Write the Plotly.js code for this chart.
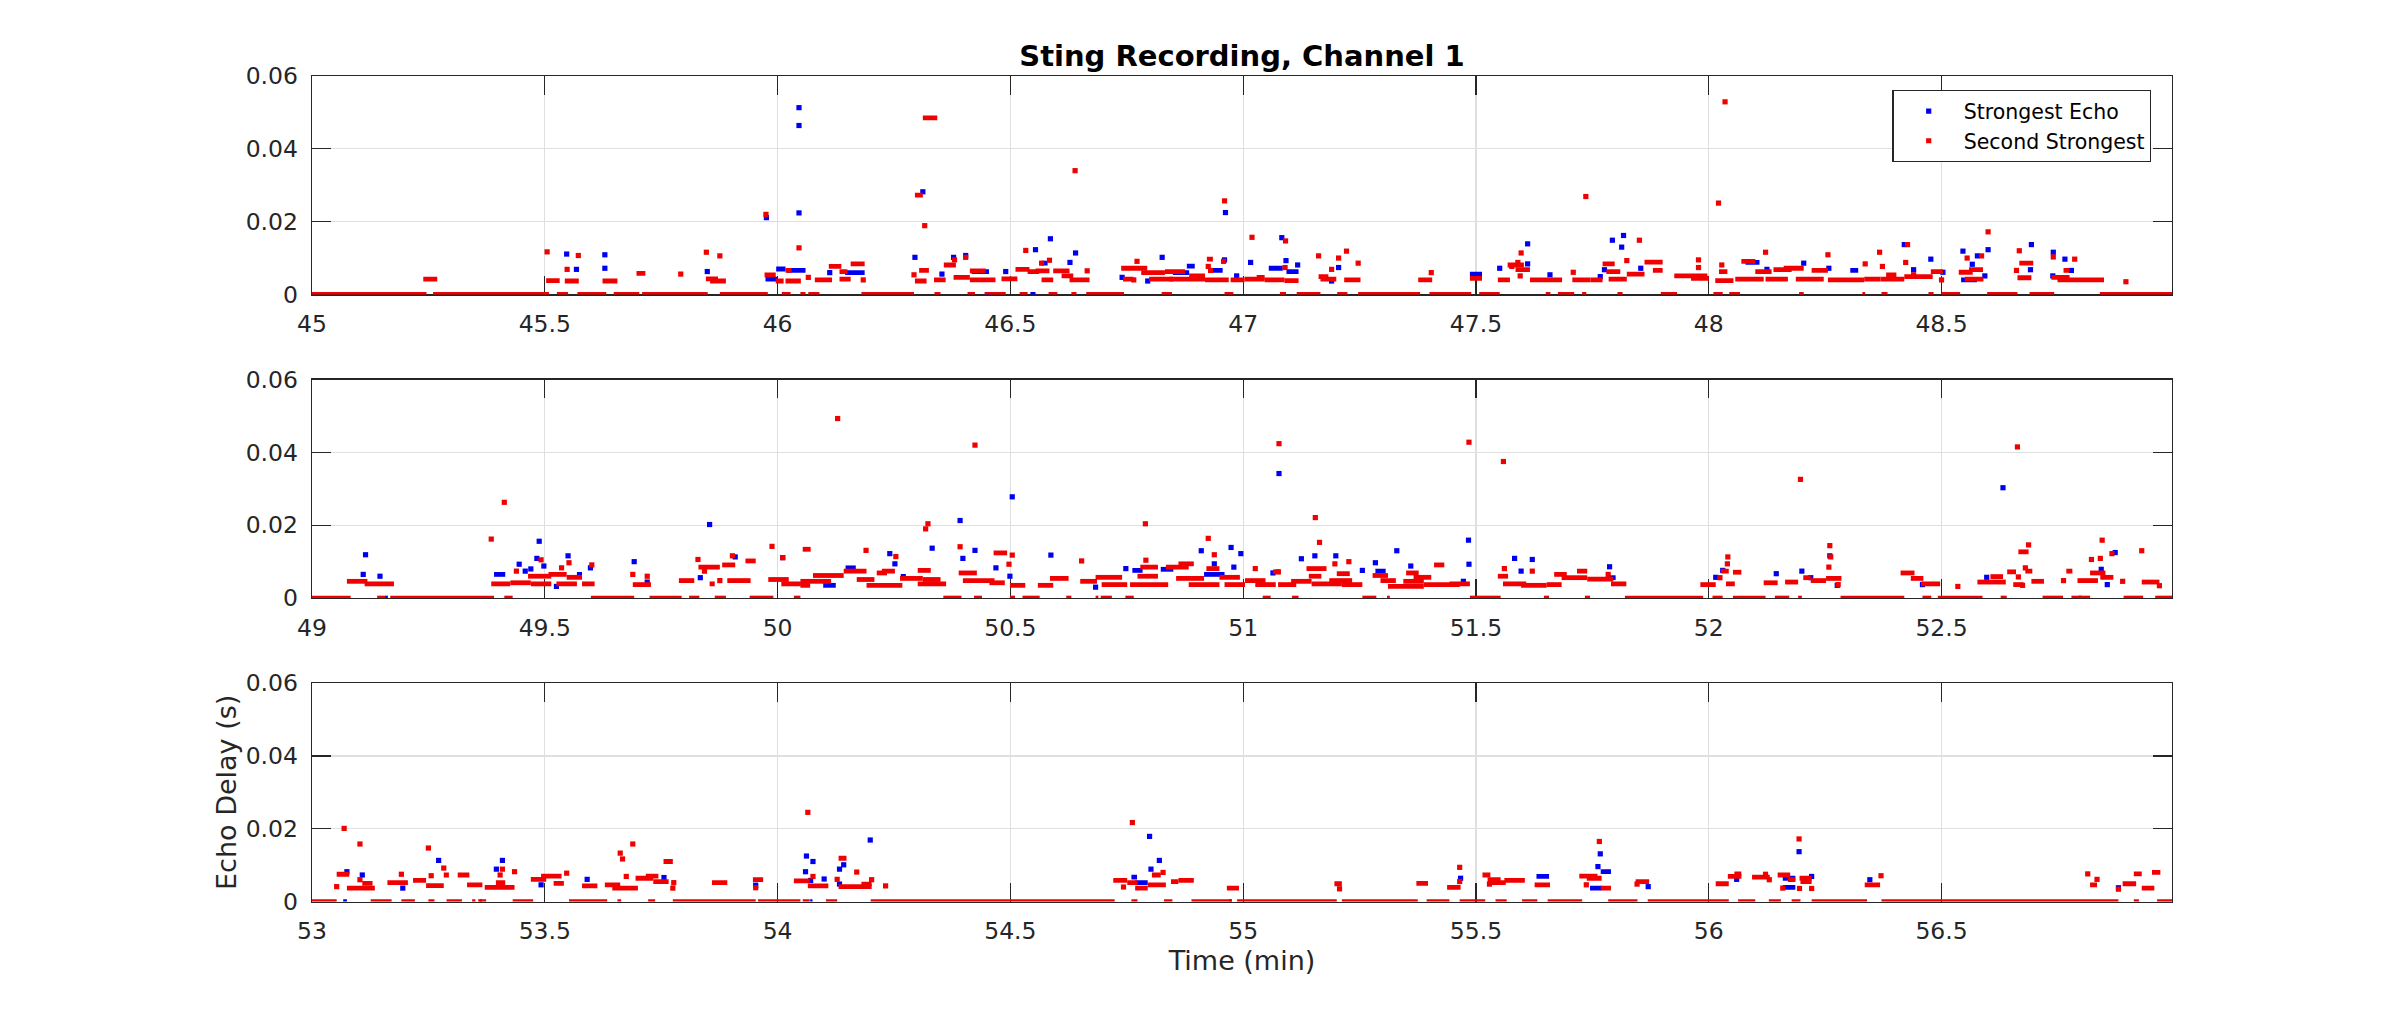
<!DOCTYPE html>
<html>
<head>
<meta charset="utf-8">
<script src="https://cdn.plot.ly/plotly-3.0.1.min.js"></script>
<style>html,body{margin:0;padding:0;background:#fff;}#chart{width:2400px;height:1013px;}</style>
</head>
<body>
<div id="chart"></div>
<script>
// ---------------- DATA ----------------
const panelStarts = [45, 49, 53];
const yTickVals = [0, 0.02, 0.04, 0.06];
const seriesNames = ['Strongest Echo', 'Second Strongest'];

// Panel 1 (45-49 min)
// runs of zero delay [start, end]
const zero1 = [[45.0,45.246],[45.26,45.509],[45.526,45.55],[45.57,45.632],[45.648,45.703],[45.709,45.85],[45.876,45.979],[46.009,46.028],[46.049,46.06],[46.066,46.09],[46.18,46.293],[46.337,46.35],[46.408,46.424],[46.445,46.49],[46.52,46.537],[46.582,46.601],[46.631,46.642],[46.663,46.744],[46.825,46.847],[46.96,46.979],[47.079,47.092],[47.115,47.166],[47.202,47.224],[47.247,47.38],[47.4,47.49],[47.507,47.551],[47.65,47.66],[47.676,47.711],[47.728,47.737],[47.804,47.815],[47.897,47.932],[48.01,48.03],[48.044,48.067],[48.194,48.204],[48.33,48.336],[48.371,48.384],[48.472,48.483],[48.5,48.54],[48.598,48.663],[48.689,48.742],[48.84,49.0]];
const blueZero1 = [[46.445,46.46],[46.543,46.554],[48.02,48.026]];
// runs of constant delay [start, end, delay]
const redDash1 = [[45.239,45.269,0.0042],[45.503,45.532,0.0038],[45.543,45.573,0.0037],[45.624,45.656,0.0037],[45.697,45.716,0.0058],[45.846,45.872,0.0043],[45.855,45.889,0.0037],[45.972,45.996,0.0054],[45.996,46.013,0.0037],[46.017,46.05,0.0037],[46.017,46.03,0.0066],[46.08,46.117,0.004],[46.11,46.137,0.0077],[46.133,46.15,0.0063],[46.133,46.157,0.0042],[46.157,46.187,0.0084],[46.304,46.325,0.0066],[46.295,46.32,0.0037],[46.295,46.312,0.0273],[46.312,46.343,0.0485],[46.336,46.361,0.004],[46.357,46.383,0.0081],[46.378,46.413,0.0047],[46.413,46.447,0.0065],[46.413,46.468,0.004],[46.481,46.515,0.0043],[46.511,46.541,0.0069],[46.537,46.562,0.0063],[46.554,46.584,0.0065],[46.567,46.592,0.004],[46.592,46.627,0.0065],[46.61,46.635,0.0051],[46.627,46.67,0.004],[46.738,46.794,0.0072],[46.742,46.764,0.0042],[46.781,46.832,0.006],[46.798,46.849,0.0042],[46.832,46.875,0.0063],[46.841,46.918,0.0042],[46.884,46.918,0.0051],[46.922,46.935,0.0097],[46.918,46.969,0.004],[46.973,47.003,0.004],[47.003,47.046,0.0042],[47.029,47.046,0.0047],[47.046,47.089,0.004],[47.089,47.119,0.0038],[47.162,47.183,0.0049],[47.166,47.2,0.0042],[47.217,47.252,0.004],[47.376,47.406,0.004],[47.487,47.513,0.0044],[47.547,47.573,0.004],[47.568,47.603,0.0081],[47.585,47.616,0.0068],[47.616,47.685,0.004],[47.707,47.746,0.004],[47.746,47.772,0.004],[47.772,47.798,0.0084],[47.78,47.81,0.0063],[47.785,47.824,0.0042],[47.824,47.862,0.0056],[47.862,47.901,0.0089],[47.88,47.901,0.0066],[47.926,47.997,0.0051],[47.962,48.0,0.0044],[48.022,48.04,0.0063],[48.014,48.053,0.0038],[48.07,48.1,0.0091],[48.1,48.135,0.0063],[48.057,48.118,0.0042],[48.139,48.178,0.0068],[48.122,48.17,0.0042],[48.161,48.204,0.0072],[48.187,48.247,0.0042],[48.221,48.256,0.0066],[48.256,48.334,0.004],[48.334,48.369,0.0042],[48.381,48.403,0.0054],[48.369,48.42,0.0042],[48.42,48.481,0.0049],[48.477,48.503,0.0063],[48.537,48.567,0.0061],[48.559,48.589,0.0068],[48.55,48.59,0.0042],[48.667,48.697,0.0086],[48.663,48.693,0.0046],[48.762,48.775,0.0066],[48.736,48.775,0.0047],[48.749,48.849,0.004]];
const blueDash1 = [[45.974,46.0,0.0042],[45.997,46.017,0.007],[46.02,46.06,0.0066],[46.145,46.187,0.006],[46.417,46.454,0.0063],[46.567,46.58,0.0086],[46.849,46.884,0.006],[46.879,46.896,0.0078],[46.935,46.956,0.0066],[47.055,47.085,0.0072],[47.093,47.119,0.0063],[47.487,47.513,0.0056],[48.079,48.109,0.0088],[48.304,48.321,0.0066],[48.542,48.576,0.004]];
// single points [time, delay]
const redPts1 = [[45.505,0.0117],[45.572,0.0107],[45.548,0.0069],[45.792,0.0056],[45.847,0.0116],[45.876,0.0106],[45.975,0.022],[46.046,0.0128],[46.066,0.0047],[46.184,0.004],[46.316,0.0189],[46.293,0.0054],[46.38,0.0095],[46.404,0.0102],[46.533,0.0121],[46.567,0.0086],[46.584,0.0094],[46.665,0.0065],[46.639,0.034],[46.772,0.0091],[46.765,0.004],[46.925,0.0077],[46.93,0.0066],[46.96,0.0257],[46.958,0.0091],[47.019,0.0157],[47.091,0.0147],[47.09,0.0074],[47.162,0.0106],[47.19,0.0069],[47.205,0.01],[47.222,0.0119],[47.247,0.0086],[47.404,0.006],[47.577,0.0077],[47.597,0.0114],[47.59,0.0088],[47.595,0.0051],[47.709,0.0061],[47.736,0.0269],[47.851,0.0149],[47.824,0.0093],[47.978,0.0095],[47.978,0.0074],[48.021,0.0251],[48.035,0.0529],[48.028,0.0081],[48.122,0.0116],[48.256,0.0109],[48.336,0.0084],[48.367,0.0116],[48.373,0.0077],[48.427,0.0137],[48.423,0.0088],[48.44,0.0054],[48.5,0.004],[48.555,0.01],[48.586,0.0106],[48.6,0.0172],[48.667,0.012],[48.661,0.0066],[48.74,0.0103],[48.786,0.0097],[48.896,0.0035]];
const bluePts1 = [[45.547,0.0111],[45.568,0.0069],[45.629,0.0109],[45.629,0.0072],[45.849,0.0063],[45.976,0.0211],[46.046,0.0513],[46.046,0.0464],[46.046,0.0224],[46.295,0.0102],[46.312,0.0282],[46.353,0.0056],[46.378,0.0102],[46.404,0.0107],[46.49,0.0063],[46.554,0.0123],[46.586,0.0153],[46.64,0.0114],[46.628,0.0088],[46.74,0.0047],[46.795,0.0037],[46.826,0.0102],[46.96,0.0095],[46.962,0.0225],[46.986,0.0051],[47.016,0.0088],[47.083,0.0156],[47.092,0.0093],[47.117,0.0081],[47.19,0.0037],[47.205,0.0074],[47.551,0.0072],[47.611,0.0139],[47.611,0.0084],[47.659,0.0054],[47.767,0.0049],[47.776,0.0068],[47.793,0.0149],[47.817,0.0162],[47.813,0.013],[47.854,0.0072],[48.125,0.0069],[48.204,0.0086],[48.258,0.0072],[48.42,0.0137],[48.44,0.0068],[48.477,0.0097],[48.503,0.0061],[48.546,0.0119],[48.566,0.0083],[48.577,0.0106],[48.6,0.0123],[48.593,0.0051],[48.693,0.0137],[48.691,0.0068],[48.74,0.0116],[48.765,0.0097],[48.779,0.0066],[48.739,0.0051],[46.112,0.006]];

// Panel 2 (49-53 min)
const zero2 = [[49.0,49.083],[49.14,49.157],[49.168,49.391],[49.413,49.431],[49.599,49.692],[49.725,49.794],[49.81,49.832],[49.865,49.889],[49.94,49.991],[50.035,50.049],[50.356,50.395],[50.422,50.439],[50.499,50.51],[50.526,50.563],[50.62,50.631],[50.683,50.689],[50.694,50.718],[50.747,50.765],[51.042,51.059],[51.105,51.119],[51.256,51.286],[51.309,51.315],[51.487,51.553],[51.646,51.657],[51.734,51.745],[51.82,51.988],[52.008,52.03],[52.052,52.122],[52.142,52.173],[52.192,52.2],[52.283,52.42],[52.459,52.478],[52.492,52.588],[52.627,52.64],[52.717,52.761],[52.779,52.819],[52.891,52.933],[52.959,53.0]];
const blueZero2 = [[49.157,49.163],[52.795,52.8]];
const redDash2 = [[49.075,49.119,0.0046],[49.113,49.176,0.0039],[49.385,49.426,0.0039],[49.426,49.47,0.0042],[49.464,49.514,0.006],[49.47,49.514,0.0039],[49.508,49.547,0.0065],[49.525,49.569,0.0039],[49.547,49.58,0.0057],[49.58,49.607,0.0039],[49.689,49.728,0.0037],[49.788,49.821,0.0048],[49.83,49.876,0.0085],[49.854,49.865,0.0039],[49.881,49.909,0.0091],[49.892,49.942,0.0048],[49.931,49.953,0.0102],[49.98,50.024,0.0051],[50.008,50.05,0.0039],[50.054,50.071,0.0134],[50.076,50.142,0.0062],[50.049,50.115,0.0046],[50.049,50.07,0.0035],[50.142,50.191,0.0074],[50.17,50.208,0.0051],[50.191,50.268,0.0035],[50.213,50.235,0.0069],[50.224,50.252,0.0074],[50.263,50.312,0.0054],[50.301,50.329,0.0076],[50.301,50.362,0.0039],[50.312,50.35,0.0051],[50.389,50.428,0.0069],[50.398,50.466,0.0048],[50.455,50.488,0.0042],[50.464,50.493,0.0124],[50.499,50.532,0.0035],[50.559,50.592,0.0035],[50.585,50.625,0.0054],[50.65,50.686,0.0046],[50.683,50.74,0.0057],[50.696,50.751,0.0037],[50.779,50.817,0.0085],[50.773,50.817,0.006],[50.757,50.839,0.0037],[50.834,50.883,0.0085],[50.861,50.894,0.0094],[50.856,50.916,0.0054],[50.883,50.949,0.0037],[50.921,50.949,0.0081],[50.949,50.993,0.0057],[50.96,51.004,0.0037],[51.004,51.048,0.0048],[51.026,51.07,0.0037],[51.064,51.081,0.0072],[51.075,51.114,0.0037],[51.103,51.147,0.0046],[51.136,51.179,0.0081],[51.141,51.168,0.006],[51.147,51.212,0.0039],[51.185,51.234,0.0048],[51.201,51.229,0.0067],[51.212,51.256,0.0037],[51.278,51.311,0.0062],[51.295,51.328,0.0048],[51.311,51.388,0.0032],[51.344,51.388,0.0046],[51.35,51.377,0.0069],[51.366,51.404,0.0057],[51.41,51.432,0.0091],[51.388,51.465,0.0037],[51.443,51.487,0.0039],[51.547,51.569,0.006],[51.558,51.608,0.0039],[51.597,51.652,0.0035],[51.668,51.695,0.0065],[51.652,51.684,0.0037],[51.684,51.739,0.0056],[51.717,51.739,0.0074],[51.739,51.795,0.0052],[51.79,51.823,0.0039],[51.982,52.015,0.0037],[52.026,52.043,0.0074],[52.052,52.07,0.0071],[52.037,52.056,0.0039],[52.118,52.148,0.0042],[52.164,52.192,0.0044],[52.203,52.219,0.0056],[52.219,52.252,0.0048],[52.252,52.285,0.0054],[52.412,52.442,0.0069],[52.434,52.461,0.0054],[52.456,52.497,0.0039],[52.577,52.638,0.0044],[52.605,52.632,0.0059],[52.641,52.66,0.0072],[52.654,52.676,0.0037],[52.665,52.687,0.0127],[52.68,52.695,0.0074],[52.693,52.72,0.0046],[52.768,52.781,0.0074],[52.792,52.836,0.0048],[52.819,52.852,0.0069],[52.841,52.869,0.0057],[52.93,52.968,0.0044]];
const blueDash2 = [[49.391,49.415,0.0065],[49.569,49.58,0.0065],[50.098,50.125,0.0035],[50.146,50.168,0.0083],[50.762,50.784,0.0076],[50.823,50.85,0.0079],[50.916,50.96,0.0065],[51.284,51.306,0.0074],[51.784,51.8,0.0056]];
const redPts2 = [[49.385,0.0162],[49.413,0.0263],[49.439,0.0074],[49.492,0.0105],[49.552,0.0097],[49.536,0.0083],[49.601,0.0091],[49.689,0.0065],[49.72,0.006],[49.829,0.0106],[49.843,0.0074],[49.903,0.0116],[49.876,0.0048],[49.988,0.0142],[50.011,0.0111],[50.129,0.0493],[50.424,0.042],[51.077,0.0424],[51.485,0.0428],[51.559,0.0375],[51.155,0.0221],[50.323,0.0204],[50.318,0.019],[50.79,0.0204],[50.925,0.0164],[51.164,0.0153],[50.19,0.0131],[50.254,0.0114],[50.392,0.0141],[50.504,0.0118],[50.653,0.0102],[50.497,0.0093],[51.197,0.0094],[51.227,0.01],[51.561,0.0081],[51.026,0.0081],[50.938,0.0119],[50.791,0.0104],[51.621,0.0074],[51.784,0.0065],[52.024,0.0056],[52.041,0.0113],[52.04,0.0094],[52.197,0.0326],[52.26,0.0144],[52.262,0.0113],[52.258,0.0085],[52.278,0.0037],[52.535,0.0032],[52.663,0.0415],[52.687,0.0146],[52.68,0.0083],[52.665,0.0058],[52.674,0.0035],[52.762,0.0048],[52.822,0.0106],[52.841,0.0109],[52.845,0.0159],[52.866,0.0122],[52.889,0.0046],[52.93,0.013],[52.968,0.0034],[51.075,0.0072]];
const bluePts2 = [[49.115,0.0119],[49.11,0.0065],[49.146,0.006],[49.445,0.0093],[49.47,0.008],[49.458,0.0074],[49.488,0.0156],[49.483,0.0109],[49.498,0.0088],[49.55,0.0116],[49.525,0.0032],[49.598,0.0083],[49.692,0.01],[49.72,0.0044],[49.854,0.0202],[49.834,0.0056],[49.909,0.0113],[50.011,0.0111],[50.504,0.0278],[51.077,0.0342],[50.392,0.0213],[51.484,0.0159],[50.974,0.0139],[50.995,0.0122],[50.91,0.013],[51.33,0.013],[50.241,0.0122],[50.332,0.0137],[50.424,0.0131],[50.587,0.0118],[50.398,0.0109],[50.469,0.0083],[51.125,0.0108],[51.154,0.0116],[51.199,0.0116],[51.284,0.0097],[51.256,0.0076],[51.583,0.0109],[51.621,0.0106],[51.485,0.0093],[50.938,0.0094],[50.252,0.0094],[50.499,0.006],[50.748,0.0081],[50.98,0.0085],[51.064,0.0069],[51.36,0.0088],[51.597,0.0074],[51.473,0.0046],[51.787,0.0086],[52.015,0.0057],[52.03,0.0076],[52.145,0.0067],[52.2,0.0074],[52.219,0.0056],[52.26,0.0116],[52.276,0.0035],[52.459,0.0037],[52.597,0.0057],[52.632,0.0303],[52.856,0.0037],[52.843,0.0079],[52.873,0.0125],[50.27,0.0059],[50.683,0.003]];

// Panel 3 (53-57 min)
const zero3 = [[53.0,53.053],[53.126,53.171],[53.192,53.221],[53.25,53.263],[53.289,53.322],[53.344,53.351],[53.357,53.374],[53.431,53.475],[53.552,53.634],[53.656,53.664],[53.722,53.737],[53.775,53.953],[53.958,54.049],[54.054,54.069],[54.104,54.128],[54.2,54.724],[54.76,54.773],[54.83,54.848],[54.889,54.976],[54.987,55.201],[55.212,55.375],[55.394,55.443],[55.465,55.52],[55.542,55.566],[55.599,55.632],[55.654,55.728],[55.784,55.847],[55.869,56.043],[56.063,56.1],[56.129,56.155],[56.178,56.197],[56.221,56.34],[56.371,56.88],[56.913,56.924],[56.963,57.0]];
const blueZero3 = [[53.067,53.075],[53.36,53.365],[54.07,54.075],[54.97,54.975]];
const redDash3 = [[53.053,53.08,0.0075],[53.075,53.135,0.0037],[53.108,53.13,0.005],[53.162,53.206,0.0052],[53.217,53.245,0.0058],[53.245,53.283,0.0044],[53.283,53.294,0.0073],[53.313,53.338,0.0073],[53.333,53.366,0.0046],[53.371,53.435,0.0039],[53.395,53.415,0.0052],[53.47,53.503,0.0061],[53.492,53.536,0.007],[53.519,53.541,0.005],[53.58,53.613,0.0043],[53.629,53.662,0.0046],[53.645,53.7,0.0037],[53.695,53.733,0.0064],[53.717,53.744,0.007],[53.733,53.766,0.0055],[53.755,53.775,0.011],[53.859,53.892,0.0052],[53.947,53.969,0.006],[54.035,54.069,0.0057],[54.065,54.109,0.0043],[54.131,54.148,0.0119],[54.131,54.202,0.0041],[54.18,54.202,0.0048],[54.721,54.751,0.0058],[54.751,54.773,0.0052],[54.768,54.795,0.0037],[54.795,54.834,0.0046],[54.804,54.823,0.0073],[54.845,54.861,0.0055],[54.861,54.894,0.0058],[54.965,54.991,0.0037],[55.196,55.212,0.0049],[55.372,55.397,0.005],[55.438,55.467,0.0039],[55.514,55.531,0.0073],[55.525,55.553,0.006],[55.531,55.564,0.0052],[55.561,55.605,0.0058],[55.626,55.659,0.0046],[55.722,55.761,0.007],[55.738,55.77,0.0064],[55.768,55.79,0.0037],[55.843,55.872,0.0055],[56.015,56.043,0.0049],[56.041,56.07,0.0069],[56.055,56.07,0.0076],[56.093,56.131,0.0067],[56.148,56.175,0.0073],[56.17,56.186,0.006],[56.195,56.221,0.0064],[56.197,56.221,0.0055],[56.335,56.368,0.0046],[56.819,56.834,0.0046],[56.889,56.918,0.0049],[56.913,56.93,0.0076],[56.93,56.957,0.0037],[56.952,56.97,0.008]];
const blueDash3 = [[54.768,54.795,0.0052],[54.76,54.772,0.0067],[55.63,55.657,0.0069],[55.745,55.77,0.0037],[55.768,55.79,0.0082],[56.159,56.186,0.0039],[56.159,56.186,0.0064]];
const redPts3 = [[53.053,0.0041],[53.069,0.0201],[53.103,0.0158],[53.103,0.006],[53.192,0.0075],[53.25,0.0147],[53.256,0.0071],[53.283,0.0092],[53.409,0.0089],[53.404,0.0073],[53.435,0.0082],[53.547,0.0078],[53.662,0.0133],[53.667,0.0117],[53.689,0.0158],[53.675,0.0069],[53.775,0.0037],[53.777,0.0052],[53.953,0.0038],[54.065,0.0245],[54.076,0.0069],[54.128,0.0061],[54.17,0.0081],[54.202,0.006],[54.232,0.0043],[54.762,0.0217],[54.828,0.008],[54.743,0.004],[55.207,0.0035],[55.465,0.0094],[55.465,0.0055],[55.529,0.0048],[55.765,0.0165],[55.737,0.0046],[55.846,0.0048],[56.122,0.0075],[56.13,0.006],[56.159,0.0037],[56.194,0.0172],[56.195,0.0036],[56.221,0.0036],[56.37,0.0071],[56.814,0.0076],[56.834,0.0061],[56.88,0.0034]];
const bluePts3 = [[53.075,0.0082],[53.108,0.0073],[53.195,0.0037],[53.272,0.0113],[53.396,0.0089],[53.409,0.0113],[53.492,0.0046],[53.591,0.0061],[53.756,0.0066],[53.953,0.0045],[54.062,0.0125],[54.076,0.011],[54.06,0.0082],[54.1,0.0062],[54.071,0.0058],[54.142,0.0101],[54.133,0.0089],[54.199,0.0169],[54.133,0.0048],[54.799,0.0179],[54.82,0.0113],[54.802,0.0089],[55.467,0.0064],[55.767,0.0131],[55.762,0.0096],[55.87,0.0041],[56.06,0.0061],[56.194,0.0137],[56.221,0.0069],[56.346,0.006],[56.88,0.0038]];

// ---------------- BUILD ----------------
const BLUE = '#0000f0', RED = '#f00000';
const MS = 5.2, LW = 4.8;

// runs of constant delay drawn as line segments
function runXY(runs) {
  const x = [], y = [];
  runs.forEach(r => { x.push(r[0], r[1], null); y.push(r[2], r[2], null); });
  return {x, y};
}
function dashTrace(runs, color, xa, ya) {
  const d = runXY(runs);
  return {type:'scatter', mode:'lines', x:d.x, y:d.y, xaxis:xa, yaxis:ya,
    line:{color, width:LW}, showlegend:false, hoverinfo:'skip'};
}
// runs sitting on the zero line: drawn as horizontal error bars so they are not clipped at the axis
function zeroTrace(runs, color, xa, ya) {
  return {type:'scatter', mode:'markers', x:runs.map(r => (r[0] + r[1]) / 2), y:runs.map(() => 0),
    xaxis:xa, yaxis:ya, marker:{size:0.1, opacity:0, color},
    error_x:{type:'data', symmetric:true, array:runs.map(r => (r[1] - r[0]) / 2), color, thickness:LW, width:0},
    cliponaxis:false, showlegend:false, hoverinfo:'skip'};
}
function ptTrace(pts, color, xa, ya, name, show) {
  return {type:'scatter', mode:'markers', x:pts.map(p=>p[0]), y:pts.map(p=>p[1]),
    xaxis:xa, yaxis:ya, name, showlegend:show, legendgroup:name,
    marker:{symbol:'square', size:MS, color, line:{width:0}}, cliponaxis:false, hoverinfo:'skip'};
}

const panels = [
  {zero:zero1, bz:blueZero1, rd:redDash1, bd:blueDash1, rp:redPts1, bp:bluePts1},
  {zero:zero2, bz:blueZero2, rd:redDash2, bd:blueDash2, rp:redPts2, bp:bluePts2},
  {zero:zero3, bz:blueZero3, rd:redDash3, bd:blueDash3, rp:redPts3, bp:bluePts3}
];
const traces = [];
panels.forEach((p, i) => {
  const xa = i === 0 ? 'x' : 'x' + (i+1), ya = i === 0 ? 'y' : 'y' + (i+1);
  traces.push(zeroTrace(p.bz, BLUE, xa, ya));
  traces.push(dashTrace(p.bd, BLUE, xa, ya));
  traces.push(ptTrace(p.bp, BLUE, xa, ya, seriesNames[0], i === 0));
  traces.push(zeroTrace(p.zero, RED, xa, ya));
  traces.push(dashTrace(p.rd, RED, xa, ya));
  traces.push(ptTrace(p.rp, RED, xa, ya, seriesNames[1], i === 0));
});

const AX = '#262626';
const yDomains = [[0.7093, 0.925], [0.4096, 0.6253], [0.11, 0.3257]];
function xAxis(i) {
  return {domain:[0.13, 0.905], anchor: i === 0 ? 'y' : 'y' + (i+1),
    range:[panelStarts[i], panelStarts[i] + 3.995], tickmode:'linear', tick0:panelStarts[i], dtick:0.5,
    showline:true, linecolor:AX, linewidth:1.3, mirror:'ticks', ticks:'inside', ticklen:18.6,
    tickwidth:1.3, tickcolor:AX, showgrid:true, gridcolor:'#dfdfdf', gridwidth:1.3, zeroline:false,
    layer:'below traces', tickfont:{family:'DejaVu Sans', size:23.5, color:AX}, ticklabelstandoff:8,
    fixedrange:true};
}
function yAxis(i) {
  return {domain:yDomains[i], anchor: i === 0 ? 'x' : 'x' + (i+1),
    range:[0, 0.06], tickmode:'array', tickvals:yTickVals, ticktext:yTickVals.map(v=>String(v)),
    showline:true, linecolor:AX, linewidth:1.3, mirror:'ticks', ticks:'inside', ticklen:18.6,
    tickwidth:1.3, tickcolor:AX, showgrid:true, gridcolor:'#dfdfdf', gridwidth:1.3, zeroline:false,
    layer:'below traces', tickfont:{family:'DejaVu Sans', size:23.5, color:AX}, ticklabelstandoff:8,
    fixedrange:true};
}
const layout = {
  width:2400, height:1013, margin:{l:0, r:0, t:0, b:0},
  paper_bgcolor:'#ffffff', plot_bgcolor:'#ffffff',
  font:{family:'DejaVu Sans', size:23.5, color:AX},
  title:{text:'Sting Recording, Channel 1', font:{family:'DejaVu Sans', size:29, weight:700, color:'#000000'},
    x:0.5175, xref:'paper', xanchor:'center', y:0.9445, yref:'paper', yanchor:'middle'},
  showlegend:true,
  legend:{x:0.7885, y:0.9112, xanchor:'left', yanchor:'top', bgcolor:'#ffffff', bordercolor:AX, borderwidth:1.3,
    font:{family:'DejaVu Sans', size:20.5, color:'#000000'}, itemwidth:60, tracegroupgap:0},
  xaxis:xAxis(0), yaxis:yAxis(0),
  xaxis2:xAxis(1), yaxis2:yAxis(1),
  xaxis3:Object.assign(xAxis(2), {title:{text:'Time (min)', font:{family:'DejaVu Sans', size:27, color:AX}, standoff:0}}),
  yaxis3:Object.assign(yAxis(2), {title:{text:'Echo Delay (s)', font:{family:'DejaVu Sans', size:27, color:AX}, standoff:1}})
};
layout.xaxis3.automargin = false; layout.yaxis3.automargin = false;

Plotly.newPlot('chart', traces, layout, {displayModeBar:false, staticPlot:true});
</script>
</body>
</html>
